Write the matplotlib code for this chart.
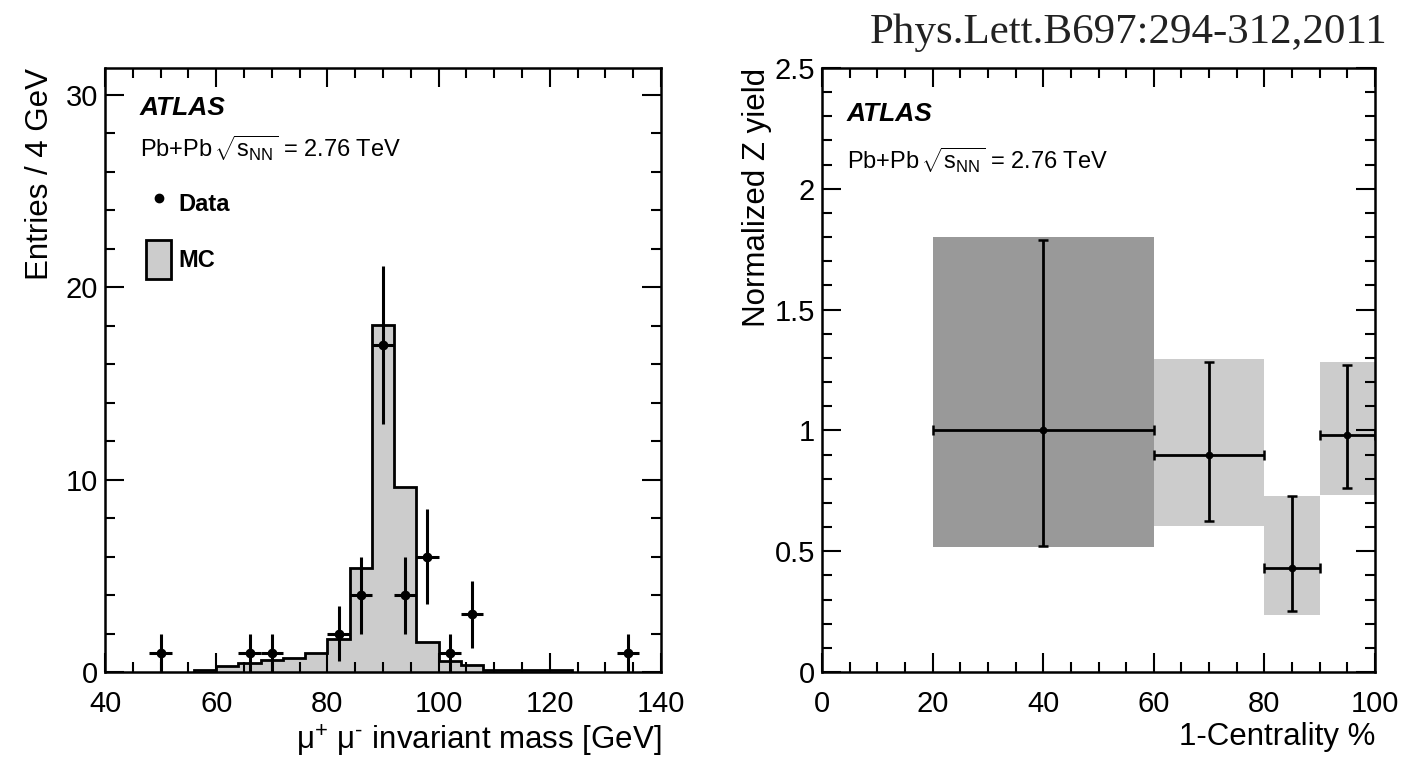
import numpy as np
import matplotlib
matplotlib.use("Agg")
import matplotlib.pyplot as plt
from matplotlib.lines import Line2D
from matplotlib.patches import Patch
from matplotlib.ticker import MultipleLocator

plt.rcParams['font.family'] = ['Liberation Sans', 'DejaVu Sans']
plt.rcParams['mathtext.fontset'] = 'custom'
plt.rcParams['mathtext.rm'] = 'Liberation Sans'
plt.rcParams['mathtext.it'] = 'Liberation Sans:italic'
plt.rcParams['mathtext.bf'] = 'Liberation Sans:bold'

# ---- dimuon invariant mass: MC histogram (4 GeV bins) ----
mc_edges = [56, 60, 64, 68, 72, 76, 80, 84, 88, 92, 96, 100, 104, 108, 112, 116, 120, 124]
mc_counts = [0.1, 0.3, 0.45, 0.6, 0.72, 1.0, 1.7, 5.4, 18.05, 9.6, 1.55, 0.56, 0.35,
             0.1, 0.1, 0.1, 0.1]

# ---- dimuon invariant mass: data ----
data_mass = [50, 66, 70, 82, 86, 90, 94, 98, 102, 106, 134]
data_counts = [1, 1, 1, 2, 4, 17, 4, 6, 1, 3, 1]
data_err = [1.0, 1.0, 1.0, 1.41, 2.0, 4.12, 2.0, 2.45, 1.0, 1.73, 1.0]
data_half_bin = [2] * len(data_mass)

# ---- normalized Z yield vs centrality ----
cent_center = [40, 70, 85, 95]
cent_half_width = [20, 10, 5, 5]
z_yield = [1.0, 0.9, 0.432, 0.983]
z_err_low = [0.478, 0.277, 0.18, 0.221]
z_err_high = [0.789, 0.383, 0.296, 0.287]
z_sys_low = [0.519, 0.606, 0.235, 0.733]
z_sys_high = [1.802, 1.296, 0.730, 1.282]
z_sys_color = ['#999999', '#cccccc', '#cccccc', '#cccccc']

W, H = 1408, 762
fig = plt.figure(figsize=(W / 100, H / 100), dpi=100)

ax_l = fig.add_axes([105 / W, 1 - 672 / H, 556 / W, 604 / H])
ax_r = fig.add_axes([822 / W, 1 - 672 / H, 553 / W, 604 / H])

tick_fs = 21
label_fs = 22.5
atlas_fs = 19
info_fs = 17


def style_axes(ax):
    for s in ax.spines.values():
        s.set_linewidth(1.8)
    ax.tick_params(which='both', direction='in', top=True, right=True,
                   width=1.5, labelsize=tick_fs)
    ax.tick_params(which='major', length=14)
    ax.tick_params(which='minor', length=7)
    ax.tick_params(axis='x', which='both', pad=13)
    ax.tick_params(axis='y', which='both', pad=5)


# left panel
ax = ax_l
ax.stairs(mc_counts, mc_edges, fill=True, color='#cccccc', zorder=1)
ax.stairs(mc_counts, mc_edges, color='black', linewidth=2.0, zorder=2)
ax.errorbar(data_mass, data_counts, yerr=data_err, xerr=data_half_bin, fmt='o',
            color='black', ms=6, elinewidth=2.2, capsize=0, zorder=3)
ax.set_xlim(40, 140)
ax.set_ylim(0, 31.4)
ax.xaxis.set_major_locator(MultipleLocator(20))
ax.xaxis.set_minor_locator(MultipleLocator(5))
ax.yaxis.set_major_locator(MultipleLocator(10))
ax.yaxis.set_minor_locator(MultipleLocator(2))
style_axes(ax)
ax.set_ylabel('Entries / 4 GeV', fontsize=label_fs, loc='top', labelpad=8)
ax.set_xlabel(r'μ$^{+}$ μ$^{\text{-}}$ invariant mass [GeV]', fontsize=label_fs,
              loc='right', labelpad=3)
ax.text(0.063, 0.922, 'ATLAS', transform=ax.transAxes, fontsize=atlas_fs,
        fontweight='bold', fontstyle='italic', va='baseline')
ax.text(0.063, 0.853, r'Pb+Pb$\,\sqrt{\mathrm{s}_{\mathrm{NN}}}$ = 2.76 TeV',
        transform=ax.transAxes, fontsize=info_fs, va='baseline')
handles = [Line2D([], [], marker='o', ms=6, color='black', linestyle='none'),
           Patch(facecolor='#cccccc', edgecolor='black', linewidth=2)]
leg = ax.legend(handles, ['Data', 'MC'], loc='upper left',
                bbox_to_anchor=(0.074, 0.807), frameon=False, borderpad=0,
                borderaxespad=0, handlelength=1.06, handleheight=2.16,
                handletextpad=0.3, labelspacing=0.7,
                prop={'size': 17, 'weight': 'bold'})

# right panel
ax = ax_r
for c, hw, lo, hi, col in zip(cent_center, cent_half_width, z_sys_low,
                              z_sys_high, z_sys_color):
    ax.bar(c, hi - lo, width=2 * hw, bottom=lo, color=col, linewidth=0,
           zorder=1)
ax.errorbar(cent_center, z_yield, yerr=[z_err_low, z_err_high],
            xerr=cent_half_width, fmt='o', color='black', ms=4.5,
            elinewidth=2.0, capsize=3.5, capthick=1.8, zorder=3)
ax.set_xlim(0, 100)
ax.set_ylim(0, 2.5)
ax.xaxis.set_major_locator(MultipleLocator(20))
ax.xaxis.set_minor_locator(MultipleLocator(5))
ax.yaxis.set_major_locator(MultipleLocator(0.5))
ax.yaxis.set_minor_locator(MultipleLocator(0.1))
ax.set_yticks([0, 0.5, 1, 1.5, 2, 2.5])
ax.set_yticklabels(['0', '0.5', '1', '1.5', '2', '2.5'])
ax.set_xticks([0, 20, 40, 60, 80, 100])
style_axes(ax)
ax.set_ylabel('Normalized Z yield', fontsize=label_fs, loc='top', labelpad=2)
ax.set_xlabel('1-Centrality %', fontsize=label_fs, loc='right', labelpad=3)
ax.text(0.045, 0.912, 'ATLAS', transform=ax.transAxes, fontsize=atlas_fs,
        fontweight='bold', fontstyle='italic', va='baseline')
ax.text(0.045, 0.833, r'Pb+Pb$\,\sqrt{\mathrm{s}_{\mathrm{NN}}}$ = 2.76 TeV',
        transform=ax.transAxes, fontsize=info_fs, va='baseline')

fig.text(1388 / W, 1 - 43 / H, 'Phys.Lett.B697:294-312,2011',
         family=['Liberation Serif', 'DejaVu Serif'], fontsize=31,
         ha='right', va='baseline', color='#222222')

fig.savefig('out.png', dpi=100, facecolor='white')
